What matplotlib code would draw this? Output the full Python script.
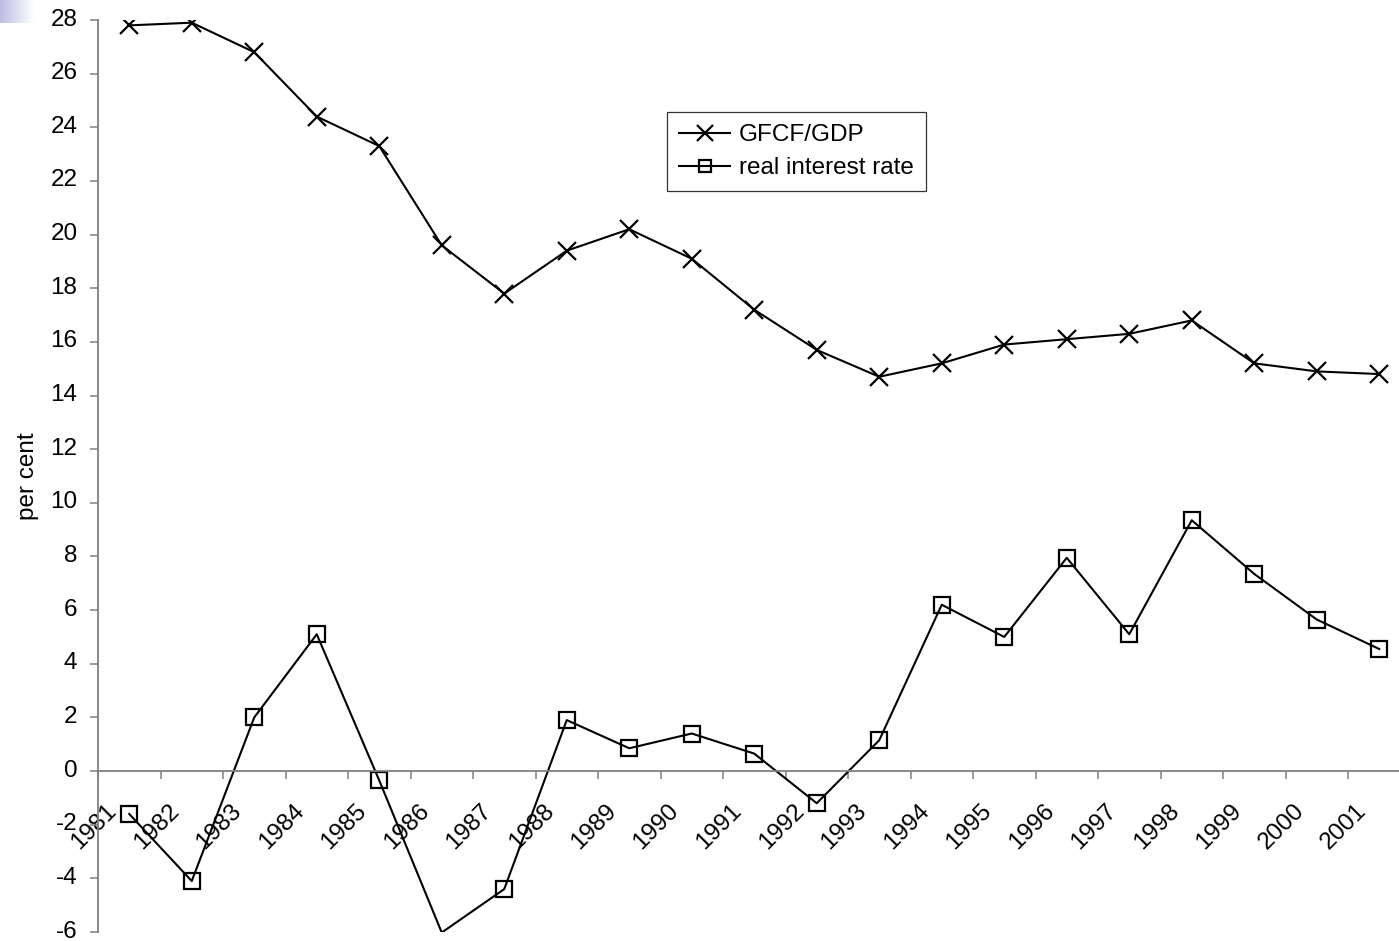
import numpy as np
import matplotlib.pyplot as plt
import matplotlib.transforms as mtransforms

plt.rcParams['font.family'] = ['Liberation Sans', 'DejaVu Sans']
plt.rcParams['axes.unicode_minus'] = False

years = [str(y) for y in range(1981, 2002)]
gfcf_gdp = [27.8, 27.9, 26.8, 24.4, 23.3, 19.6, 17.8, 19.4, 20.2, 19.1, 17.2,
            15.7, 14.7, 15.2, 15.9, 16.1, 16.3, 16.8, 15.2, 14.9, 14.8]
real_rate = [-1.6, -4.1, 2.0, 5.1, -0.35, -6.02, -4.4, 1.9, 0.85, 1.4, 0.65,
             -1.2, 1.15, 6.2, 5.0, 7.95, 5.1, 9.35, 7.35, 5.65, 4.55]

ymin, ymax = -6, 28
W, H = 1399, 941
fs = 17.5

fig = plt.figure(figsize=(W / 100, H / 100), dpi=100)

# small gradient block in the top-left corner
corner = fig.add_axes([0, 1 - 23 / H, 34 / W, 23 / H])
grad = np.linspace(0, 1, 64)[None, :, None]
c0 = np.array([0.74, 0.74, 0.90])
img = c0 + (1 - c0) * grad
corner.imshow(np.repeat(img, 2, axis=0), aspect='auto')
corner.axis('off')

left, right, top, bottom = 98, 1410.5, 20, 932
ax = fig.add_axes([left / W, 1 - bottom / H, (right - left) / W, (bottom - top) / H])

x = np.arange(len(years)) + 0.5
ax.plot(x, gfcf_gdp, color='black', lw=1.5, marker='x', ms=13, mew=1.6,
        label='GFCF/GDP')
shown = [i for i, v in enumerate(real_rate) if v >= ymin]
ax.plot(x, real_rate, color='black', lw=1.5, marker='s', ms=11, mew=1.6,
        mfc='none', markevery=shown, label='real interest rate')

ax.set_xlim(0, len(years))
ax.set_ylim(ymin, ymax)
ax.set_yticks(range(ymin, ymax + 1, 2))

grey = '#808080'
for s in ['top', 'right']:
    ax.spines[s].set_visible(False)
ax.spines['bottom'].set_position(('data', 0))
ax.spines['bottom'].set_color(grey)
ax.spines['left'].set_color(grey)
ax.spines['bottom'].set_linewidth(1.3)
ax.spines['left'].set_linewidth(1.3)

ax.set_xticks(range(len(years)))
ax.set_xticklabels(years, rotation=45, ha='center')
ax.tick_params(axis='both', direction='out', length=5.8, width=1.1, color=grey,
               labelsize=fs)
ax.tick_params(axis='x', pad=15)
ax.tick_params(axis='y', pad=9)
shift_x = mtransforms.ScaledTranslation(-4 / 100, 0, fig.dpi_scale_trans)
for lab in ax.get_xticklabels():
    lab.set_transform(lab.get_transform() + shift_x)
shift_y = mtransforms.ScaledTranslation(0, 3 / 100, fig.dpi_scale_trans)
for lab in ax.get_yticklabels():
    lab.set_transform(lab.get_transform() + shift_y)

fig.text(28 / W, 1 - 476 / H, 'per cent', rotation=90, ha='center', va='center',
         fontsize=fs)

leg = ax.legend(loc='upper left', bbox_to_anchor=(667 / W, 1 - 112 / H),
                bbox_transform=fig.transFigure, fontsize=fs, frameon=True,
                fancybox=False, edgecolor='black', borderaxespad=0,
                handlelength=2.1, handletextpad=0.35, labelspacing=0.45,
                borderpad=0.5, markerscale=0.85)
leg.get_frame().set_linewidth(0.9)

fig.savefig('out.png', dpi=100)
